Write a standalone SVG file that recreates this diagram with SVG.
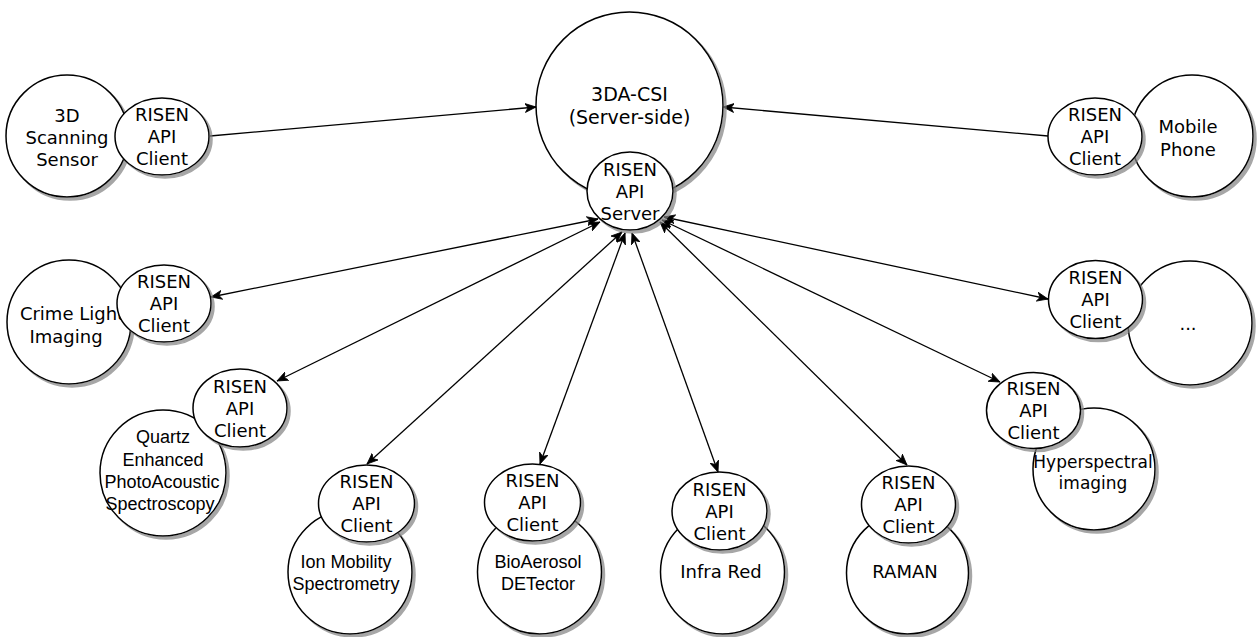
<svg xmlns="http://www.w3.org/2000/svg" width="1257" height="637" viewBox="0 0 1257 637">
<style>
.s{fill:#fff;stroke:#000;stroke-width:1.5;filter:url(#sh)}
.t{font-family:"DejaVu Sans",Verdana,sans-serif;font-size:18px;text-anchor:middle;fill:#000}
.h{font-family:"Liberation Sans",Arial,sans-serif;font-size:18px;text-anchor:middle;fill:#000}
.c{fill:none;stroke:#000;stroke-width:1.3}
</style>
<defs>
<filter id="sh" x="-10%" y="-10%" width="130%" height="130%">
<feDropShadow dx="3" dy="3" stdDeviation="0.6" flood-color="#808080" flood-opacity="0.7"/>
</filter>
<marker id="a" viewBox="0 0 12 10" refX="11" refY="5" markerWidth="12" markerHeight="10" markerUnits="userSpaceOnUse" orient="auto-start-reverse">
<path d="M0,0.5 L11,5 L0,9.5 L3,5 Z" fill="#000" stroke="#000" stroke-width="0.8"/>
</marker>
</defs>
<g id="connectors">
<line class="c" x1="210" y1="136" x2="536" y2="107" marker-end="url(#a)"/>
<line class="c" x1="1048" y1="136" x2="723" y2="107" marker-end="url(#a)"/>
<line class="c" x1="598" y1="219" x2="211" y2="297" marker-start="url(#a)" marker-end="url(#a)"/>
<line class="c" x1="600" y1="222" x2="277" y2="381" marker-start="url(#a)" marker-end="url(#a)"/>
<line class="c" x1="622" y1="232" x2="367" y2="464" marker-start="url(#a)" marker-end="url(#a)"/>
<line class="c" x1="625" y1="233" x2="540" y2="464" marker-start="url(#a)" marker-end="url(#a)"/>
<line class="c" x1="632" y1="233" x2="718" y2="472" marker-start="url(#a)" marker-end="url(#a)"/>
<line class="c" x1="660" y1="222" x2="907" y2="465" marker-start="url(#a)" marker-end="url(#a)"/>
<line class="c" x1="662" y1="220" x2="1000" y2="382" marker-start="url(#a)" marker-end="url(#a)"/>
<line class="c" x1="664" y1="217" x2="1048" y2="299" marker-start="url(#a)" marker-end="url(#a)"/>
</g>
<g id="server">
<circle class="s" cx="629.5" cy="105.5" r="93.5"/>
<text class="t" style="font-size:19px" x="629.5" y="101">3DA-CSI</text>
<text class="t" style="font-size:19px" x="629.5" y="124">(Server-side)</text>
<ellipse class="s" cx="630" cy="191" rx="43" ry="39"/>
<text class="t" x="630" y="175.5">RISEN</text>
<text class="t" x="630" y="197.5">API</text>
<text class="t" x="630" y="219.5">Server</text>
</g>
<g id="scanning">
<circle class="s" cx="67" cy="136" r="61"/>
<text class="t" x="67" y="122">3D</text>
<text class="t" x="67" y="144">Scanning</text>
<text class="t" x="67" y="166">Sensor</text>
<ellipse class="s" cx="162" cy="136.5" rx="47" ry="38.5"/>
<text class="t" x="162" y="121">RISEN</text>
<text class="t" x="162" y="143">API</text>
<text class="t" x="162" y="165">Client</text>
</g>
<g id="mobile">
<circle class="s" cx="1192" cy="136" r="61"/>
<text class="t" x="1188" y="133">Mobile</text>
<text class="t" x="1188" y="156">Phone</text>
<ellipse class="s" cx="1095" cy="136.5" rx="47" ry="38.5"/>
<text class="t" x="1095" y="121">RISEN</text>
<text class="t" x="1095" y="143">API</text>
<text class="t" x="1095" y="165">Client</text>
</g>
<g id="crime">
<circle class="s" cx="69" cy="322" r="62"/>
<text class="t" x="72" y="320">Crime Light</text>
<text class="t" x="66" y="343">Imaging</text>
<ellipse class="s" cx="164" cy="303.5" rx="47" ry="38.5"/>
<text class="t" x="164" y="288">RISEN</text>
<text class="t" x="164" y="310">API</text>
<text class="t" x="164" y="332">Client</text>
</g>
<g id="other">
<circle class="s" cx="1190" cy="323" r="62"/>
<text class="t" x="1188" y="330">...</text>
<ellipse class="s" cx="1095.5" cy="299.5" rx="47" ry="39"/>
<text class="t" x="1095.5" y="284">RISEN</text>
<text class="t" x="1095.5" y="306">API</text>
<text class="t" x="1095.5" y="328">Client</text>
</g>
<g id="quartz">
<circle class="s" cx="163" cy="473" r="63"/>
<text class="h" x="163" y="443">Quartz</text>
<text class="h" x="163" y="466">Enhanced</text>
<text class="h" x="162" y="488">PhotoAcoustic</text>
<text class="h" x="160" y="510">Spectroscopy</text>
<ellipse class="s" cx="240" cy="408" rx="47" ry="39"/>
<text class="t" x="240" y="392.5">RISEN</text>
<text class="t" x="240" y="414.5">API</text>
<text class="t" x="240" y="436.5">Client</text>
</g>
<g id="hyperspectral">
<circle class="s" cx="1094" cy="469" r="61"/>
<text class="t" style="font-size:17px" x="1093" y="468">Hyperspectral</text>
<text class="t" style="font-size:17px" x="1093" y="489">imaging</text>
<ellipse class="s" cx="1033.5" cy="410.5" rx="47" ry="38"/>
<text class="t" x="1033.5" y="395">RISEN</text>
<text class="t" x="1033.5" y="417">API</text>
<text class="t" x="1033.5" y="439">Client</text>
</g>
<g id="ion">
<circle class="s" cx="350" cy="572" r="62"/>
<text class="h" x="346" y="568">Ion Mobility</text>
<text class="h" x="346" y="590">Spectrometry</text>
<ellipse class="s" cx="366.5" cy="503.5" rx="48" ry="38.5"/>
<text class="t" x="366.5" y="488">RISEN</text>
<text class="t" x="366.5" y="510">API</text>
<text class="t" x="366.5" y="532">Client</text>
</g>
<g id="bio">
<circle class="s" cx="539.5" cy="572" r="62"/>
<text class="h" x="538" y="568">BioAerosol</text>
<text class="h" x="538" y="590">DETector</text>
<ellipse class="s" cx="532.5" cy="502.5" rx="48" ry="38.5"/>
<text class="t" x="532.5" y="487">RISEN</text>
<text class="t" x="532.5" y="509">API</text>
<text class="t" x="532.5" y="531">Client</text>
</g>
<g id="infrared">
<circle class="s" cx="722.5" cy="572" r="62"/>
<text class="t" x="721" y="578">Infra Red</text>
<ellipse class="s" cx="719.5" cy="511" rx="47.5" ry="39"/>
<text class="t" x="719.5" y="495.5">RISEN</text>
<text class="t" x="719.5" y="517.5">API</text>
<text class="t" x="719.5" y="539.5">Client</text>
</g>
<g id="raman">
<circle class="s" cx="907.5" cy="573" r="61"/>
<text class="t" x="905" y="578">RAMAN</text>
<ellipse class="s" cx="908.5" cy="504.5" rx="47" ry="38.5"/>
<text class="t" x="908.5" y="489">RISEN</text>
<text class="t" x="908.5" y="511">API</text>
<text class="t" x="908.5" y="533">Client</text>
</g>
</svg>
